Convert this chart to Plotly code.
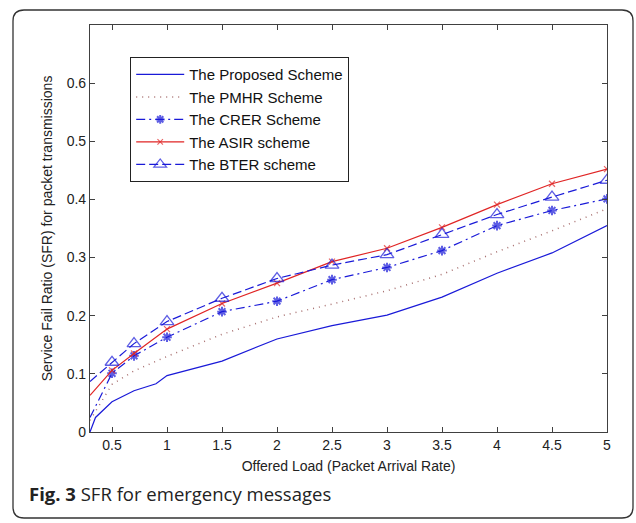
import plotly.graph_objects as go

# ---- data ----
x_load = [0.3, 0.5, 0.7, 1, 1.5, 2, 2.5, 3, 3.5, 4, 4.5, 5]
x_prop = [0.3, 0.35, 0.5, 0.7, 0.9, 1, 1.5, 2, 2.5, 3, 3.5, 4, 4.5, 5]
proposed = [0.0, 0.025, 0.052, 0.071, 0.083, 0.097, 0.122, 0.160, 0.183, 0.201, 0.232, 0.273, 0.308, 0.355]
pmhr = [0.020, 0.082, 0.105, 0.130, 0.168, 0.198, 0.220, 0.243, 0.271, 0.310, 0.346, 0.384]
crer = [0.025, 0.101, 0.131, 0.163, 0.207, 0.225, 0.262, 0.283, 0.312, 0.355, 0.381, 0.401]
asir = [0.063, 0.106, 0.135, 0.177, 0.221, 0.256, 0.293, 0.316, 0.352, 0.391, 0.427, 0.452]
bter = [0.087, 0.120, 0.152, 0.190, 0.230, 0.264, 0.287, 0.305, 0.340, 0.374, 0.404, 0.433]

x_ticks = [0.5, 1, 1.5, 2, 2.5, 3, 3.5, 4, 4.5, 5]
x_labels = ["0.5", "1", "1.5", "2", "2.5", "3", "3.5", "4", "4.5", "5"]
y_ticks = [0, 0.1, 0.2, 0.3, 0.4, 0.5, 0.6]
y_labels = ["0", "0.1", "0.2", "0.3", "0.4", "0.5", "0.6"]

names = ["The Proposed Scheme", "The PMHR Scheme", "The CRER Scheme", "The ASIR scheme", "The BTER scheme"]

BLUE = "#1a1ad8"
RED = "#e02525"
PMHR_C = "#a87070"

def msizes(n, s):
    return [0] + [s] * (n - 1)

fig = go.Figure()
fig.add_trace(go.Scatter(x=x_prop, y=proposed, mode="lines", name=names[0],
                         line=dict(color=BLUE, width=1.2)))
fig.add_trace(go.Scatter(x=x_load, y=pmhr, mode="lines", name=names[1],
                         line=dict(color=PMHR_C, width=1.5, dash="1px,5px")))
fig.add_trace(go.Scatter(x=x_load, y=crer, mode="lines+markers", name=names[2],
                         line=dict(color=BLUE, width=1.2, dash="9px,4px,2px,4px"),
                         marker=dict(symbol="asterisk-open", size=msizes(len(x_load), 8),
                                     line=dict(color=BLUE, width=2))))
fig.add_trace(go.Scatter(x=x_load, y=asir, mode="lines+markers", name=names[3],
                         line=dict(color=RED, width=1.2),
                         marker=dict(symbol="x-thin-open", size=msizes(len(x_load), 6),
                                     line=dict(color=RED, width=1.2))))
fig.add_trace(go.Scatter(x=x_load, y=bter, mode="lines+markers", name=names[4],
                         line=dict(color=BLUE, width=1.2, dash="9px,4px"),
                         marker=dict(symbol="triangle-up-open", size=msizes(len(x_load), 12),
                                     line=dict(color=BLUE, width=1.3))))

axis_common = dict(showline=True, linecolor="#404040", linewidth=1.2, mirror="allticks",
                   ticks="inside", ticklen=5, tickcolor="#404040", showgrid=False, zeroline=False,
                   tickfont=dict(family="Liberation Sans", size=14, color="#222"))

fig.update_xaxes(range=[0.3, 5], tickvals=x_ticks, ticktext=x_labels,
                 title=dict(text="Offered Load (Packet Arrival Rate)",
                            font=dict(family="Liberation Sans", size=14, color="#222"), standoff=9),
                 **axis_common)
fig.update_yaxes(range=[0, 0.7], tickvals=y_ticks, ticktext=y_labels,
                 title=dict(text="Service Fail Ratio (SFR) for packet transmissions",
                            font=dict(family="Liberation Sans", size=14, color="#222"), standoff=10),
                 **axis_common)

# paper coordinate helpers for the outer frame
L, R, T, B = 90, 607, 25, 432
def px(xp):
    return (xp - L) / (R - L)
def py(yp):
    return (B - yp) / (B - T)

x0, x1, y0, y1 = 13, 633, 10, 518
r = 11
path = (f"M {px(x0 + r)},{py(y0)} L {px(x1 - r)},{py(y0)} "
        f"Q {px(x1)},{py(y0)} {px(x1)},{py(y0 + r)} "
        f"L {px(x1)},{py(y1 - r)} Q {px(x1)},{py(y1)} {px(x1 - r)},{py(y1)} "
        f"L {px(x0 + r)},{py(y1)} Q {px(x0)},{py(y1)} {px(x0)},{py(y1 - r)} "
        f"L {px(x0)},{py(y0 + r)} Q {px(x0)},{py(y0)} {px(x0 + r)},{py(y0)} Z")
fig.add_shape(type="path", path=path, xref="paper", yref="paper",
              line=dict(color="#333", width=1.3), layer="below")

fig.add_annotation(text="<b>Fig. 3</b> SFR for emergency messages", xref="paper", yref="paper",
                   x=px(27), y=py(493), xanchor="left", yanchor="middle", showarrow=False,
                   font=dict(family="Open Sans", size=18.5, color="#222"))

fig.update_layout(
    width=636, height=523,
    margin=dict(l=L, r=636 - R, t=T, b=523 - B),
    paper_bgcolor="white", plot_bgcolor="white",
    showlegend=True,
    legend=dict(x=px(130), y=py(57), xanchor="left", yanchor="top",
                bgcolor="white", bordercolor="#222", borderwidth=1.2,
                font=dict(family="Liberation Sans", size=15, color="#111"),
                itemwidth=48, tracegroupgap=0),
)

fig.write_html("out.html")
